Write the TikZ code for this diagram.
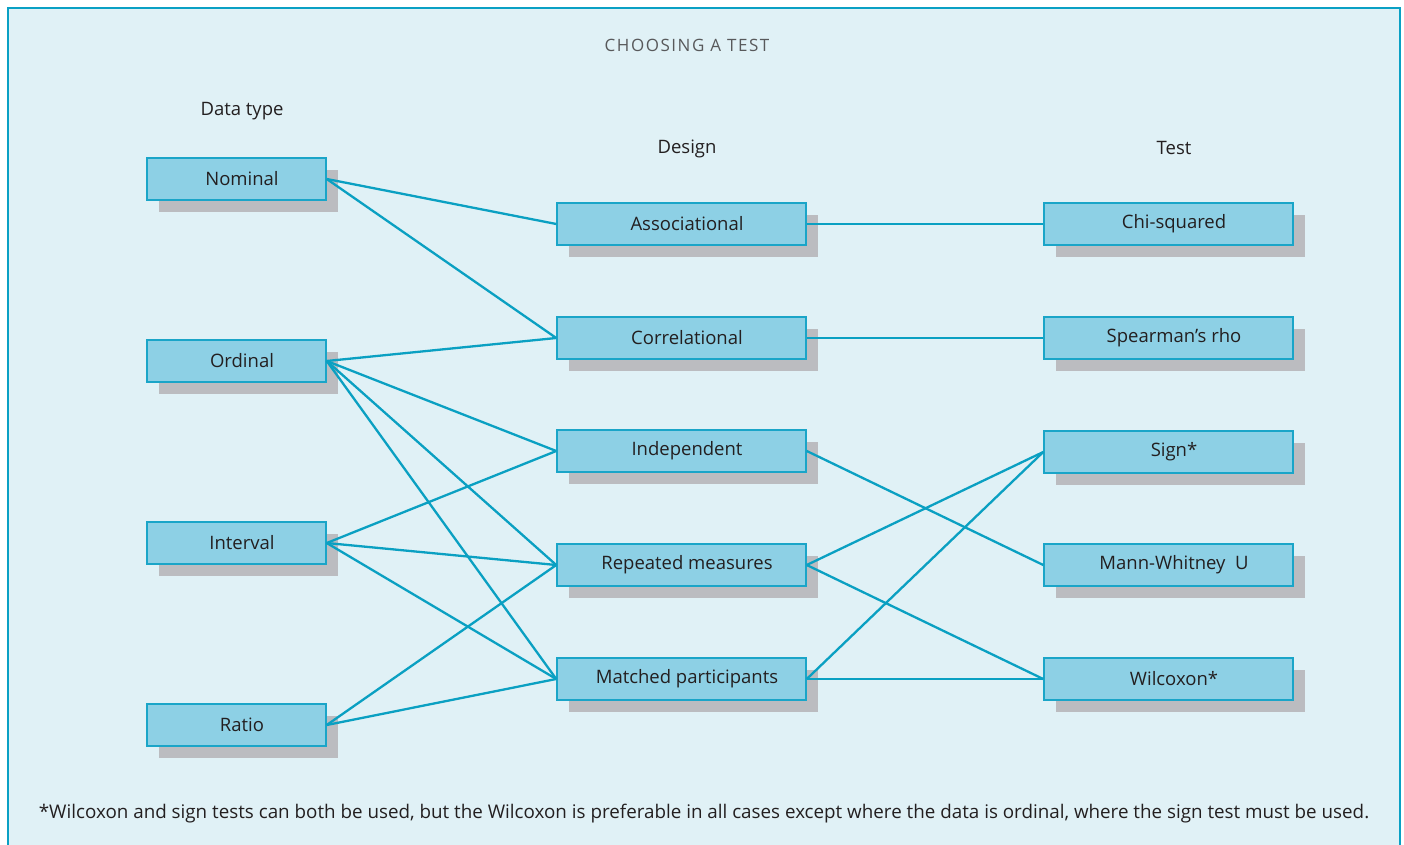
\documentclass[tikz,border=0pt]{standalone}
\usepackage{fontspec}
\setmainfont{Open Sans}
\usetikzlibrary{shadows}
\definecolor{bg}{HTML}{E0F1F6}
\definecolor{frame}{HTML}{0AA0C4}
\definecolor{boxfill}{HTML}{8DD0E5}
\definecolor{boxline}{HTML}{1AA5C8}
\definecolor{link}{HTML}{0AA0C2}
\definecolor{shade}{HTML}{BBBCC0}
\definecolor{ink}{HTML}{231F20}
\definecolor{titlegray}{HTML}{58595B}
\tikzset{
  box/.style={draw=boxline, fill=boxfill, line width=1.5pt, minimum width=#1, minimum height=42pt,
    inner sep=0pt, text=ink, font=\fontsize{18.5}{22}\selectfont,
    execute at begin node=\hspace*{11pt},
    drop shadow={shadow xshift=12pt, shadow yshift=-12pt, fill=shade, opacity=1}},
  head/.style={text=ink, font=\fontsize{18.5}{22}\selectfont, inner sep=0pt},
  conn/.style={draw=link, line width=2.3pt},
}
\begin{document}
\begin{tikzpicture}[x=1pt,y=-1pt]
\useasboundingbox (0,0) rectangle (1404,845);
\clip (0,0) rectangle (1404,845);
\fill[bg] (8,8) rectangle (1400,870);
\draw[frame, line width=2.2pt] (8,870) -- (8,8) -- (1400,8) -- (1400,870);

\node[inner sep=0pt, text=titlegray, font=\fontsize{17}{20}\selectfont\addfontfeatures{LetterSpace=9}] (title) at (687,45) {CHOOSING A TEST};
\node[head] (hdata) at (242,111) {Data type};
\node[head] (hdesign) at (687,149) {Design};
\node[head] (htest) at (1174,148) {Test};

\node[box=179pt] (nom) at (236.5,179) {Nominal};
\node[box=179pt] (ord) at (236.5,361) {Ordinal};
\node[box=179pt] (int) at (236.5,543) {Interval};
\node[box=179pt] (rat) at (236.5,725) {Ratio};

\node[box=249pt] (asc) at (681.5,224) {Associational};
\node[box=249pt] (cor) at (681.5,338) {Correlational};
\node[box=249pt] (ind) at (681.5,451) {Independent};
\node[box=249pt] (rep) at (681.5,565) {Repeated measures};
\node[box=249pt] (mat) at (681.5,679) {Matched participants};

\node[box=249pt] (chi) at (1168.5,224) {Chi-squared};
\node[box=249pt] (spe) at (1168.5,338) {Spearman’s rho};
\node[box=249pt] (sig) at (1168.5,452) {Sign*};
\node[box=249pt] (man) at (1168.5,565) {Mann-Whitney\ \ U};
\node[box=249pt] (wil) at (1168.5,679) {Wilcoxon*};

\draw[conn] (nom.east) -- (asc.west);
\draw[conn] (nom.east) -- (cor.west);
\draw[conn] (ord.east) -- (cor.west);
\draw[conn] (ord.east) -- (ind.west);
\draw[conn] (ord.east) -- (rep.west);
\draw[conn] (ord.east) -- (mat.west);
\draw[conn] (int.east) -- (ind.west);
\draw[conn] (int.east) -- (rep.west);
\draw[conn] (int.east) -- (mat.west);
\draw[conn] (rat.east) -- (rep.west);
\draw[conn] (rat.east) -- (mat.west);
\draw[conn] (asc.east) -- (chi.west);
\draw[conn] (cor.east) -- (spe.west);
\draw[conn] (ind.east) -- (man.west);
\draw[conn] (rep.east) -- (sig.west);
\draw[conn] (rep.east) -- (wil.west);
\draw[conn] (mat.east) -- (sig.west);
\draw[conn] (mat.east) -- (wil.west);

\node[head, font=\fontsize{18.8}{22}\selectfont] (foot) at (704,814) {*Wilcoxon and sign tests can both be used, but the Wilcoxon is preferable in all cases except where the data is ordinal, where the sign test must be used.};
\end{tikzpicture}
\end{document}
